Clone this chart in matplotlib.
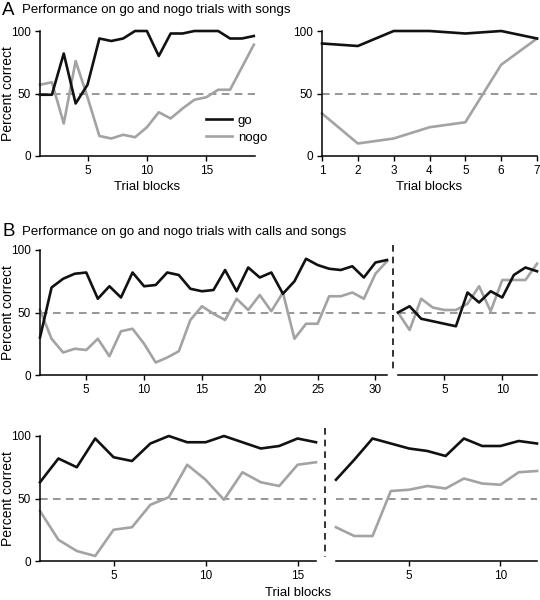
import matplotlib
matplotlib.use("Agg")
import matplotlib.pyplot as plt
from matplotlib.lines import Line2D
import matplotlib.transforms as mtransforms

plt.rcParams['font.family'] = ['Liberation Sans', 'DejaVu Sans']

# ---------------- data ----------------
# Panel A, left: songs (19 blocks)
a1_blocks = list(range(1, 20))
a1_go = [49, 49, 82, 42, 57, 94, 92, 94, 100, 100, 80, 98, 98, 100, 100, 100, 94, 94, 96]
a1_nogo = [57, 59, 26, 76, 47, 16, 14, 17, 15, 23, 35, 30, 38, 45, 47, 53, 53, 71, 89]

# Panel A, right: songs (7 blocks)
a2_blocks = list(range(1, 8))
a2_go = [90, 88, 100, 100, 98, 100, 94]
a2_nogo = [34, 10, 14, 23, 27, 73, 94]

# Panel B, top left: calls and songs (31 blocks)
b1_blocks = list(range(1, 32))
b1_go = [30, 70, 77, 81, 82, 61, 71, 62, 82, 71, 72, 82, 80, 69, 67, 68, 84, 67, 86, 78,
         82, 65, 75, 93, 88, 85, 84, 87, 78, 90, 92]
b1_nogo = [52, 29, 18, 21, 20, 29, 15, 35, 37, 25, 10, 14, 19, 44, 55, 49, 44, 61, 52, 64,
           51, 66, 29, 41, 41, 63, 63, 66, 61, 81, 91]

# Panel B, top right (13 blocks)
b2_blocks = list(range(1, 14))
b2_go = [50, 55, 45, 43, 41, 39, 66, 58, 67, 62, 80, 86, 83]
b2_nogo = [50, 36, 61, 54, 52, 52, 57, 71, 51, 76, 76, 76, 89]

# Panel B, bottom left (16 blocks)
b3_blocks = list(range(1, 17))
b3_go = [63, 82, 75, 98, 83, 80, 94, 100, 95, 95, 100, 95, 90, 92, 98, 95]
b3_nogo = [40, 17, 8, 4, 25, 27, 45, 51, 77, 65, 49, 71, 63, 60, 77, 79]

# Panel B, bottom right (12 blocks)
b4_blocks = list(range(1, 13))
b4_go = [65, 81, 98, 94, 90, 88, 84, 98, 92, 92, 96, 94]
b4_nogo = [27, 20, 20, 56, 57, 60, 58, 66, 62, 61, 71, 72]

y_ticks = [0, 50, 100]

GO_C = '#111111'
NOGO_C = '#a3a3a3'
CHANCE_C = '#7a7a7a'

W, H = 540, 600
fig = plt.figure(figsize=(W / 100, H / 100), dpi=100)


def px_axes(x0, x1, ytop, ybot):
    return fig.add_axes([x0 / W, 1 - ybot / H, (x1 - x0) / W, (ybot - ytop) / H])


def style(ax, xlim, xticks, show_y=True):
    ax.set_xlim(*xlim)
    ax.set_ylim(0, 100)
    for s in ['top', 'right']:
        ax.spines[s].set_visible(False)
    ax.spines['bottom'].set_linewidth(1.1)
    ax.spines['left'].set_linewidth(1.1)
    ax.set_xticks(xticks)
    ax.tick_params(direction='out', length=3.5, width=1.0, labelsize=8.5, pad=3)
    if show_y:
        ax.set_yticks(y_ticks)
    else:
        ax.spines['left'].set_visible(False)
        ax.set_yticks([])
    ax.axhline(50, color=CHANCE_C, lw=1.1, dashes=(5, 3.5), zorder=1)


def plot_pair(ax, x, go, nogo):
    ax.plot(x, nogo, color=NOGO_C, lw=1.9, clip_on=False, zorder=2, label='nogo')
    ax.plot(x, go, color=GO_C, lw=1.9, clip_on=False, zorder=3, label='go')


def ylab(ax):
    ax.set_ylabel('Percent correct', fontsize=10)
    ax.yaxis.set_label_coords(15 / W, 0.5,
                              transform=mtransforms.blended_transform_factory(fig.transFigure, ax.transAxes))


# ---- Panel A ----
axA1 = px_axes(40, 255, 31, 156)
style(axA1, (1, 19.1), [5, 10, 15])
plot_pair(axA1, a1_blocks, a1_go, a1_nogo)
axA1.set_xlabel('Trial blocks', fontsize=9.5, labelpad=3)
ylab(axA1)
h_go = Line2D([], [], color=GO_C, lw=1.9)
h_nogo = Line2D([], [], color=NOGO_C, lw=1.9)
axA1.legend([h_go, h_nogo], ['go', 'nogo'], loc='center left',
            bbox_to_anchor=(206 / W, 1 - 129 / H), bbox_transform=fig.transFigure,
            frameon=False, fontsize=9.5, handlelength=2.0, handletextpad=0.4,
            labelspacing=0.35, borderpad=0, borderaxespad=0)

axA2 = px_axes(322, 537, 31, 156)
style(axA2, (1, 7), list(range(1, 8)))
plot_pair(axA2, a2_blocks, a2_go, a2_nogo)
axA2.set_xlabel('Trial blocks', fontsize=9.5, labelpad=3)

fig.text(2 / W, 1 - 15 / H, 'A', fontsize=13.5, va='baseline', ha='left')
fig.text(22 / W, 1 - 13.3 / H, 'Performance on go and nogo trials with songs',
         fontsize=9.5, va='baseline', ha='left')

# ---- Panel B ----
axB1 = px_axes(40, 387, 250, 375)
style(axB1, (1, 31), [5, 10, 15, 20, 25, 30])
plot_pair(axB1, b1_blocks, b1_go, b1_nogo)
ylab(axB1)

axB2 = px_axes(398, 537, 250, 375)
style(axB2, (1, 13), [5, 10], show_y=False)
plot_pair(axB2, b2_blocks, b2_go, b2_nogo)

axB3 = px_axes(40, 316, 436, 561)
style(axB3, (1, 16), [5, 10, 15])
plot_pair(axB3, b3_blocks, b3_go, b3_nogo)
ylab(axB3)

axB4 = px_axes(336, 537, 436, 561)
style(axB4, (1, 12), [5, 10], show_y=False)
plot_pair(axB4, b4_blocks, b4_go, b4_nogo)

fig.text(2 / W, 1 - 236 / H, 'B', fontsize=13.5, va='baseline', ha='left')
fig.text(22 / W, 1 - 235 / H, 'Performance on go and nogo trials with calls and songs',
         fontsize=9.5, va='baseline', ha='left')
fig.text(298 / W, 1 - 596.5 / H, 'Trial blocks', fontsize=9.5, va='baseline', ha='center')

# separators between sessions
for xs, y0, y1 in [(392.7, 245, 372), (325, 428, 557)]:
    fig.add_artist(Line2D([xs / W, xs / W], [1 - y0 / H, 1 - y1 / H], transform=fig.transFigure,
                          color='#111111', lw=1.2, dashes=(4, 3)))

fig.savefig('out.png', dpi=100)
